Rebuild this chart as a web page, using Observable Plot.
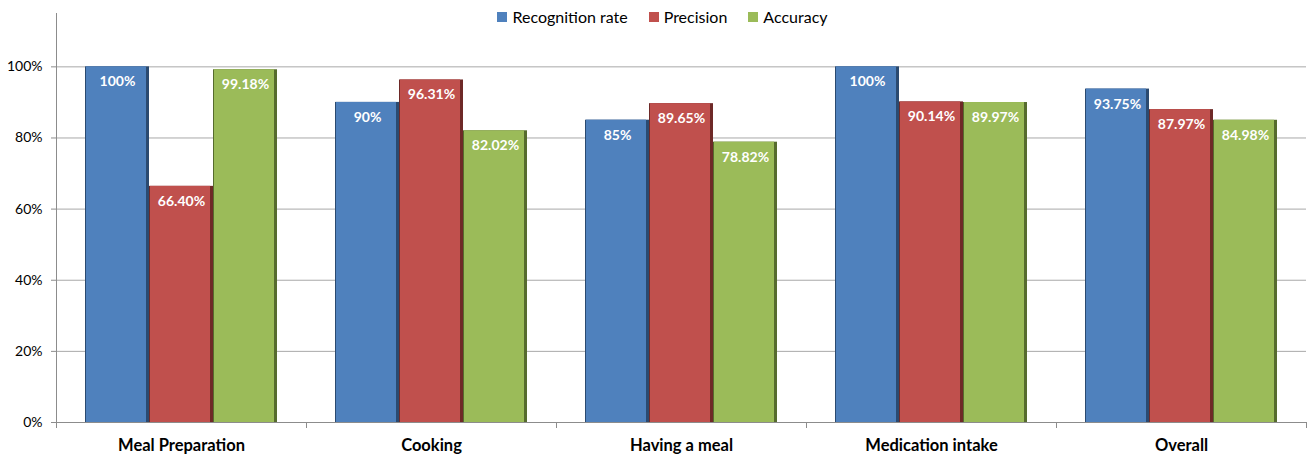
<!DOCTYPE html>
<html>
<head>
<meta charset="utf-8">
<script src="https://cdn.jsdelivr.net/npm/d3@7"></script>
<script src="https://cdn.jsdelivr.net/npm/@observablehq/plot@0.6"></script>
<style>
  body { margin: 0; background: #fff; font-family: Lato, sans-serif; }
  #wrap { position: relative; width: 1309px; height: 455px; }
  #legend { position: absolute; top: 7px; left: 0; width: 1309px; box-sizing: border-box; padding-left: 16px; display: flex; justify-content: center; z-index: 2; }
  #legend > div { margin: 0 !important; min-height: 0 !important; }
  .leg-swatch { margin-right: 21px !important; }
  .leg-swatch:last-child { margin-right: 0 !important; }
  .leg-swatch svg { margin-right: 5px !important; }
</style>
</head>
<body>
<div id="wrap">
  <div id="legend"></div>
  <div id="chart"></div>
</div>
<script>
// Activity categories and the three evaluation measures
const categories = ["Meal Preparation", "Cooking", "Having a meal", "Medication intake", "Overall"];
const series = ["Recognition rate", "Precision", "Accuracy"];

// Values per measure, in category order
const recognitionRate = [1.00, 0.90, 0.85, 1.00, 0.9375];
const precision = [0.6640, 0.9631, 0.8965, 0.9014, 0.8797];
const accuracy = [0.9918, 0.8202, 0.7882, 0.8997, 0.8498];

// Y axis ticks
const yTicks = [0, 0.2, 0.4, 0.6, 0.8, 1.0];

const colors = ["#4F81BD", "#C0504D", "#9BBB59"];
const shades = ["#2b4a70", "#6e2927", "#566b2e"];
const labelFormats = [d3.format(".2~%"), d3.format(".2%"), d3.format(".2%")];

const values = [recognitionRate, precision, accuracy];
const rows = categories.flatMap((category, i) =>
  series.map((s, j) => ({
    category,
    series: s,
    value: values[j][i],
    label: labelFormats[j](values[j][i])
  }))
);

const height = 455, marginTop = 13, marginBottom = 33;
const innerHeight = height - marginTop - marginBottom;

const chart = Plot.plot({
  width: 1309,
  height,
  marginTop,
  marginBottom,
  marginLeft: 56,
  marginRight: 3,
  style: { fontFamily: "Lato, sans-serif", fontSize: "14px", color: "#000", background: "transparent", overflow: "visible" },
  fx: { domain: categories, padding: 0, label: null },
  x: { domain: series, paddingInner: 0, paddingOuter: 0.44, axis: null },
  y: { domain: [0, 1.15], axis: null },
  color: { domain: series, range: colors },
  marks: [
    Plot.gridY(yTicks, { stroke: "#a8a8a8", strokeOpacity: 1 }),
    Plot.ruleY([0], { stroke: "#8c8c8c" }),
    Plot.frame({ anchor: "left", facetAnchor: "left", stroke: "#8c8c8c" }),
    Plot.frame({ anchor: "left", stroke: "#8c8c8c", insetTop: innerHeight, insetBottom: -5 }),
    Plot.frame({ anchor: "right", stroke: "#8c8c8c", insetTop: innerHeight, insetBottom: -5 }),
    Plot.axisY(yTicks, {
      tickFormat: d3.format(".0%"), tickSize: 5, tickPadding: 9, fontSize: 14, stroke: "#8c8c8c", label: null
    }),
    Plot.axisFx({ anchor: "bottom", tickSize: 0, tickPadding: 17, fontWeight: "bold", fontSize: 16.5, label: null }),
    // dark edge beneath each bar
    Plot.barY(rows, {
      fx: "category", x: "series", y: "value",
      fill: d => shades[series.indexOf(d.series)]
    }),
    Plot.barY(rows, {
      fx: "category", x: "series", y: "value", fill: "series",
      insetLeft: 1, insetRight: 3
    }),
    Plot.text(rows, {
      fx: "category", x: "series", y: "value", text: "label",
      dy: 15, fill: "white", fontWeight: "bold", fontSize: 14
    })
  ]
});
document.getElementById("chart").appendChild(chart);

const legend = Plot.legend({
  color: { type: "ordinal", domain: series, range: colors },
  swatchSize: 10,
  className: "leg",
  style: { fontSize: "16px", fontFamily: "Lato, sans-serif", color: "#000" }
});
document.getElementById("legend").appendChild(legend);
</script>
</body>
</html>
